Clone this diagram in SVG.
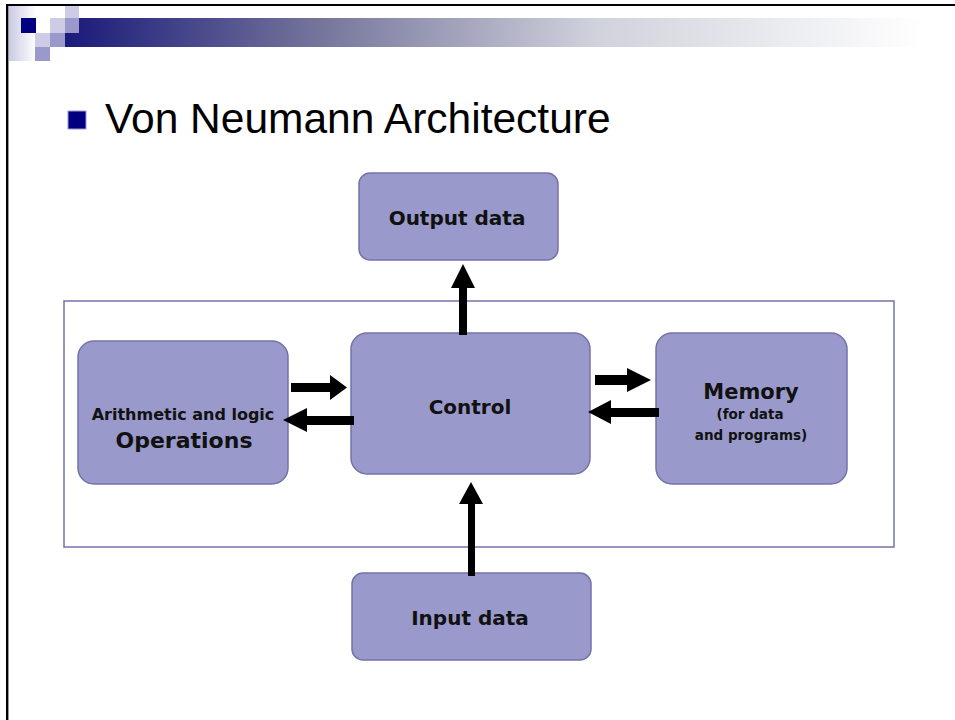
<svg xmlns="http://www.w3.org/2000/svg" width="955" height="720" viewBox="0 0 955 720">
<style>
.box{fill:#9999CC;stroke:#7373A8;stroke-width:1.5}
.lbl{font-family:"DejaVu Sans",sans-serif;font-weight:bold;fill:#111;text-anchor:middle}
.arr{fill:#000}
</style>
<defs>
<linearGradient id="band" x1="0" y1="0" x2="1" y2="0">
<stop offset="0" stop-color="#1a1a7a"/>
<stop offset="0.3" stop-color="#76769c"/>
<stop offset="0.62" stop-color="#d0d2dc"/>
<stop offset="1" stop-color="#ffffff"/>
</linearGradient>
<linearGradient id="fade" x1="0" y1="0" x2="1" y2="0">
<stop offset="0" stop-color="#c8c8e2"/>
<stop offset="1" stop-color="#ffffff"/>
</linearGradient>
</defs>
<rect width="955" height="720" fill="#fff"/>
<g id="header">
<rect x="8" y="6" width="28" height="55" fill="url(#fade)"/>
<rect x="65" y="18" width="858" height="29" fill="url(#band)"/>
<rect x="65" y="6" width="14" height="12" fill="#CCCCE6"/>
<rect x="21" y="18" width="15" height="15" fill="#000080"/>
<rect x="36" y="18" width="14" height="15" fill="#ffffff"/>
<rect x="50" y="18" width="15" height="15" fill="#CCCCE6"/>
<rect x="65" y="18" width="14" height="15" fill="#9999CC"/>
<rect x="35" y="33" width="15" height="14" fill="#CCCCE6"/>
<rect x="50" y="33" width="15" height="14" fill="#9999CC"/>
<rect x="35" y="47" width="15" height="14" fill="#9999CC"/>
</g>
<g id="border">
<line x1="7" y1="5" x2="955" y2="5" stroke="#000" stroke-width="2"/>
<line x1="7" y1="4" x2="7" y2="720" stroke="#000" stroke-width="2"/>
<line x1="8.5" y1="6" x2="8.5" y2="720" stroke="#999" stroke-width="1"/>
</g>
<g id="title">
<rect x="68" y="111" width="18" height="18" fill="#000080" stroke="#9a9ad8" stroke-width="1"/>
<text x="105" y="133" font-family="Liberation Sans, Arial, sans-serif" font-size="42.5" fill="#000">Von Neumann Architecture</text>
</g>
<g id="cpu-frame">
<rect x="64" y="301" width="830" height="246" fill="none" stroke="#7373A8" stroke-width="1.5"/>
</g>
<g id="output">
<rect class="box" x="359" y="173" width="199" height="87" rx="11"/>
<text class="lbl" x="457" y="225" font-size="20">Output data</text>
</g>
<g id="control">
<rect class="box" x="351" y="333" width="239" height="141" rx="16"/>
<text class="lbl" x="470" y="414" font-size="20">Control</text>
</g>
<g id="alu">
<rect class="box" x="78" y="341" width="210" height="143" rx="16"/>
<text class="lbl" x="183" y="420" font-size="16">Arithmetic and logic</text>
<text class="lbl" x="184" y="448" font-size="22">Operations</text>
</g>
<g id="memory">
<rect class="box" x="656" y="333" width="191" height="151" rx="16"/>
<text class="lbl" x="751" y="399" font-size="21">Memory</text>
<text class="lbl" x="750" y="419" font-size="13.5">(for data</text>
<text class="lbl" x="751" y="440" font-size="13.5">and programs)</text>
</g>
<g id="input">
<rect class="box" x="352" y="573" width="239" height="87" rx="11"/>
<text class="lbl" x="470" y="625" font-size="20">Input data</text>
</g>
<g id="connectors">
<polygon class="arr" points="459,335 459,288 451,288 463,264 475,288 467,288 467,335"/>
<polygon class="arr" points="468,576 468,504 459,504 471,482 483,504 475,504 475,576"/>
<polygon class="arr" points="291,383 330,383 330,375 347,387.5 330,400 330,392 291,392"/>
<polygon class="arr" points="354,416 307,416 307,408 283,420 307,432 307,425 354,425"/>
<polygon class="arr" points="595,375 627,375 627,368 651,380 627,392 627,385 595,385"/>
<polygon class="arr" points="659,408 611,408 611,400 588,412 611,424 611,417 659,417"/>
</g>
</svg>
